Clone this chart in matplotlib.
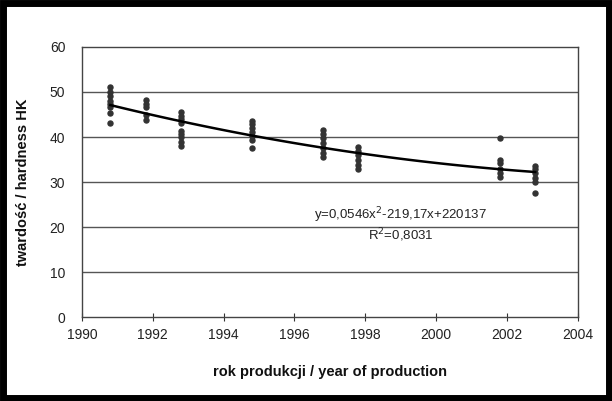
import numpy as np
import matplotlib.pyplot as plt
from matplotlib.patches import Rectangle

plt.rcParams['font.family'] = ['Liberation Sans', 'DejaVu Sans']

# hardness readings per production year
years = [1990.8, 1991.8, 1992.8, 1994.8, 1996.8, 1997.8, 2001.8, 2002.8]
hardness = [
    [51.0, 50.1, 49.1, 48.1, 47.3, 46.6, 45.4, 43.2],
    [48.2, 47.3, 46.6, 44.9, 43.8],
    [45.5, 44.7, 43.9, 43.0, 41.4, 40.7, 39.9, 39.0, 38.0],
    [43.6, 42.8, 42.1, 41.2, 40.2, 39.3, 37.5],
    [41.6, 40.7, 39.7, 38.6, 37.5, 36.5, 35.6],
    [37.8, 37.0, 36.0, 34.9, 33.8, 32.8],
    [39.7, 34.9, 34.2, 33.0, 32.1, 31.2],
    [33.6, 32.8, 31.9, 31.0, 30.1, 27.6],
]
x_ticks = [1990, 1992, 1994, 1996, 1998, 2000, 2002, 2004]
y_ticks = [0, 10, 20, 30, 40, 50, 60]
equation = 'y=0,0546x$^{2}$-219,17x+220137'
r2_text = 'R$^{2}$=0,8031'

xs = np.concatenate([[y] * len(h) for y, h in zip(years, hardness)])
ys = np.concatenate(hardness)

fig = plt.figure(figsize=(6.12, 4.01), dpi=100)
ax = fig.add_axes([0.134, 0.209, 0.81, 0.674])

for yv in y_ticks[1:-1]:
    ax.axhline(yv, color='#555555', lw=1.0, zorder=1)

ax.plot(xs, ys, 'o', color='#333333', ms=3.6, zorder=3)

# 2nd order trend line
c = np.polyfit(xs - 1990, ys, 2)
xf = np.linspace(years[0], years[-1], 100)
ax.plot(xf, np.polyval(c, xf - 1990), color='black', lw=1.8, zorder=4)

ax.text(1999.0, 22.7, equation, ha='center', va='center', fontsize=9.5,
        color='#222222')
ax.text(1999.0, 18.3, r2_text, ha='center', va='center', fontsize=9.5,
        color='#222222')

ax.set_xlim(1990, 2004)
ax.set_ylim(0, 60)
ax.set_xticks(x_ticks)
ax.set_yticks(y_ticks)
ax.tick_params(axis='x', direction='inout', length=6, labelsize=10, pad=5,
               color='#333333', labelcolor='#222222')
ax.tick_params(axis='y', length=0, labelsize=10, pad=12, labelcolor='#222222')
for s in ax.spines.values():
    s.set_color('#444444')
    s.set_linewidth(1.0)

ax.set_xlabel('rok produkcji / year of production', fontsize=10.5,
              fontweight='bold', labelpad=16, color='#111111')
ax.set_ylabel('twardość / hardness HK', fontsize=10.5, fontweight='bold',
              labelpad=14, color='#111111')

# thick black frame around the whole figure
fig.patches.append(Rectangle((0.005, 0.008), 0.99, 0.985, transform=fig.transFigure,
                             fill=False, edgecolor='black', lw=5))

fig.savefig('out.png', dpi=100)
